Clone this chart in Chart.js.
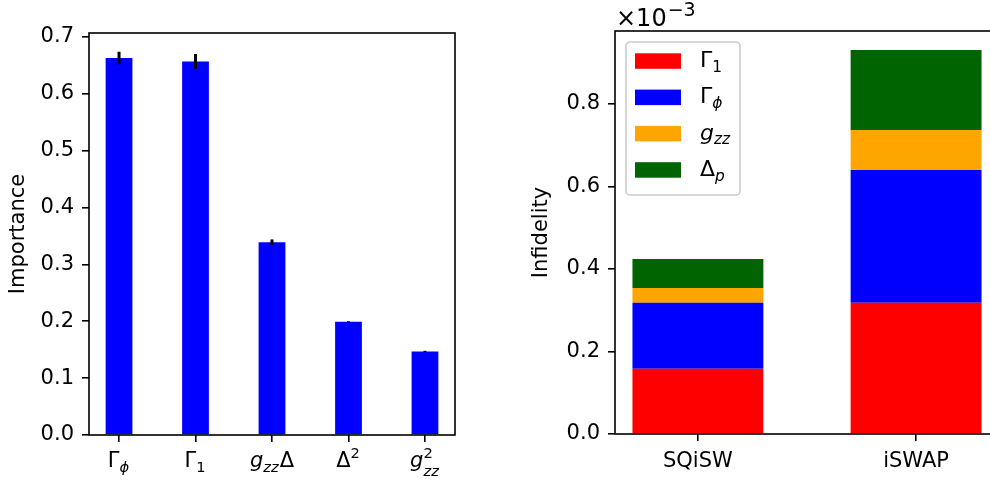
<!DOCTYPE html>
<html>
<head>
<meta charset="utf-8">
<script src="https://cdn.jsdelivr.net/npm/chart.js@4.4.1/dist/chart.umd.min.js"></script>
<style>
  html, body { margin: 0; padding: 0; background: #fff; overflow: hidden; width: 990px; height: 482px; }
  #left { position: absolute; left: 0; top: 0; }
  #right { position: absolute; left: 490px; top: 0; }
</style>
</head>
<body>
<canvas id="left" width="490" height="482"></canvas>
<canvas id="right" width="520" height="482"></canvas>
<script>
// ---- left panel: feature importance ----
const features = ['Γϕ', 'Γ1', 'gzzΔ', 'Δ2', 'g2zz'];
const importance = [0.663, 0.657, 0.339, 0.199, 0.147];
const importanceErr = [0.011, 0.013, 0.005, 0.001, 0.001];
const importanceTicks = [0, 0.1, 0.2, 0.3, 0.4, 0.5, 0.6, 0.7];

// ---- right panel: infidelity budget (units of 1e-3) ----
const gates = ['SQiSW', 'iSWAP'];
const gamma1 = [0.158, 0.318];
const gammaPhi = [0.160, 0.322];
const gzz = [0.036, 0.097];
const deltaP = [0.070, 0.194];
const infidelityTicks = [0, 0.2, 0.4, 0.6, 0.8];

// math-ish labels (drawn by hand, chart.js can't do sub/superscripts)
const featureMath = [
  [{ t: 'Γ' }, { sub: 'ϕ', subIt: true }],
  [{ t: 'Γ' }, { sub: '1' }],
  [{ t: 'g', it: true }, { sub: 'zz', subIt: true }, { t: 'Δ' }],
  [{ t: 'Δ' }, { sup: '2' }],
  [{ t: 'g', it: true }, { sup: '2', sub: 'zz', subIt: true }]
];
const legendMath = [
  [{ t: 'Γ' }, { sub: '1' }],
  [{ t: 'Γ' }, { sub: 'ϕ', subIt: true }],
  [{ t: 'g', it: true }, { sub: 'zz', subIt: true }],
  [{ t: 'Δ' }, { sub: 'p', subIt: true }]
];

Chart.defaults.font.family = '"DejaVu Sans"';
Chart.defaults.font.size = 21;
Chart.defaults.color = '#000';

function mathFont(size, it) {
  return (it ? 'italic ' : '') + size + 'px "DejaVu Sans"';
}
function pieceWidth(ctx, p, size) {
  if (p.t) { ctx.font = mathFont(size, p.it); return ctx.measureText(p.t).width; }
  const s = size * 0.7;
  let w = 0;
  if (p.sup) { ctx.font = mathFont(s, false); w = Math.max(w, ctx.measureText(p.sup).width); }
  if (p.sub) { ctx.font = mathFont(s, p.subIt); w = Math.max(w, ctx.measureText(p.sub).width); }
  return w + 1;
}
function drawMath(ctx, pieces, x, y, size, align) {
  const total = pieces.reduce((a, p) => a + pieceWidth(ctx, p, size), 0);
  let cx = align === 'center' ? x - total / 2 : x;
  ctx.save();
  ctx.fillStyle = '#000';
  ctx.textAlign = 'left';
  ctx.textBaseline = 'alphabetic';
  pieces.forEach(p => {
    const w = pieceWidth(ctx, p, size);
    if (p.t) {
      ctx.font = mathFont(size, p.it);
      ctx.fillText(p.t, cx, y);
    } else {
      const s = size * 0.7, both = p.sup && p.sub;
      if (p.sup) { ctx.font = mathFont(s, false); ctx.fillText(p.sup, cx, y - size * 0.42); }
      if (p.sub) { ctx.font = mathFont(s, p.subIt); ctx.fillText(p.sub, cx, y + size * (both ? 0.45 : 0.22)); }
    }
    cx += w;
  });
  ctx.restore();
}

function spines(chart) {
  const a = chart.chartArea, ctx = chart.ctx;
  ctx.save();
  ctx.strokeStyle = '#000';
  ctx.lineWidth = 1.6;
  ctx.strokeRect(a.left, a.top, a.right - a.left, a.bottom - a.top);
  ctx.restore();
}

const tickGrid = { drawOnChartArea: false, drawTicks: true, tickLength: 7, color: '#000', lineWidth: 1.6, offset: false };

/* ================= LEFT ================= */
const leftExtras = {
  id: 'leftExtras',
  afterDatasetsDraw(chart) {
    const ctx = chart.ctx, xs = chart.scales.x, ys = chart.scales.y;
    ctx.save();
    ctx.strokeStyle = '#000';
    ctx.lineWidth = 3;
    importance.forEach((v, i) => {
      const x = xs.getPixelForValue(i);
      ctx.beginPath();
      ctx.moveTo(x, ys.getPixelForValue(v - importanceErr[i]));
      ctx.lineTo(x, ys.getPixelForValue(v + importanceErr[i]));
      ctx.stroke();
    });
    ctx.restore();
  },
  afterDraw(chart) {
    spines(chart);
    const xs = chart.scales.x;
    featureMath.forEach((m, i) => {
      drawMath(chart.ctx, m, xs.getPixelForValue(i), chart.chartArea.bottom + 32, 21, 'center');
    });
  }
};

new Chart(document.getElementById('left'), {
  type: 'bar',
  data: {
    datasets: [{
      label: 'Importance',
      data: importance.map((v, i) => ({ x: i, y: v })),
      backgroundColor: '#0000ff',
      borderWidth: 0,
      barPercentage: 0.35,
      categoryPercentage: 1
    }]
  },
  options: {
    responsive: false,
    animation: false,
    layout: { padding: { left: 0, top: 33, right: 35, bottom: 0 } },
    plugins: { legend: { display: false }, tooltip: { enabled: false } },
    scales: {
      x: {
        type: 'linear',
        offset: false,
        min: -0.3925, max: 4.3925,
        afterBuildTicks: s => { s.ticks = features.map((f, i) => ({ value: i })); },
        afterFit: s => { s.height = 47; },
        ticks: { callback: () => '' },
        grid: tickGrid,
        border: { display: false }
      },
      y: {
        min: 0, max: 0.707,
        afterBuildTicks: s => { s.ticks = importanceTicks.map(v => ({ value: v })); },
        afterFit: s => { s.width = 89; },
        ticks: { padding: 8, callback: v => v.toFixed(1) },
        grid: tickGrid,
        border: { display: false },
        title: { display: true, text: 'Importance', padding: { top: 6, bottom: 0 } }
      }
    }
  },
  plugins: [leftExtras]
});

/* ================= RIGHT ================= */
const rightExtras = {
  id: 'rightExtras',
  afterDraw(chart) {
    spines(chart);
    const ctx = chart.ctx, a = chart.chartArea;
    // offset text
    ctx.save();
    ctx.fillStyle = '#000';
    ctx.textBaseline = 'alphabetic';
    ctx.font = '24px "DejaVu Sans"';
    ctx.fillText('×10', a.left + 1, 26);
    const w = ctx.measureText('×10').width;
    ctx.font = '19px "DejaVu Sans"';
    ctx.fillText('−3', a.left + 2 + w, 16);
    // legend
    const bx = 136, by = 42, bw = 114, bh = 153;
    ctx.beginPath();
    ctx.roundRect(bx, by, bw, bh, 4);
    ctx.fillStyle = 'rgba(255,255,255,0.8)';
    ctx.fill();
    ctx.strokeStyle = '#cccccc';
    ctx.lineWidth = 1.6;
    ctx.stroke();
    chart.data.datasets.forEach((ds, i) => {
      const cy = by + 19 + i * 36.3;
      ctx.fillStyle = ds.backgroundColor;
      ctx.fillRect(bx + 9, cy - 7.7, 46, 15.5);
      drawMath(ctx, legendMath[i], bx + 74, cy + 6, 22, 'left');
    });
    ctx.restore();
  }
};

const stackDs = (label, vals, color) => ({
  label,
  data: vals.map((v, i) => ({ x: i, y: v })),
  backgroundColor: color,
  borderWidth: 0,
  barPercentage: 0.6,
  categoryPercentage: 1
});

new Chart(document.getElementById('right'), {
  type: 'bar',
  data: {
    datasets: [
      stackDs('Γ1', gamma1, '#ff0000'),
      stackDs('Γϕ', gammaPhi, '#0000ff'),
      stackDs('gzz', gzz, '#ffa500'),
      stackDs('Δp', deltaP, '#006400')
    ]
  },
  options: {
    responsive: false,
    animation: false,
    layout: { padding: { left: 0, top: 31, right: 11, bottom: 0 } },
    plugins: { legend: { display: false }, tooltip: { enabled: false } },
    scales: {
      x: {
        type: 'linear',
        stacked: true,
        offset: false,
        min: -0.38, max: 1.38,
        afterBuildTicks: s => { s.ticks = gates.map((g, i) => ({ value: i })); },
        afterFit: s => { s.height = 48; },
        ticks: { padding: 8, maxRotation: 0, callback: v => gates[v] },
        grid: tickGrid,
        border: { display: false }
      },
      y: {
        stacked: true,
        min: 0, max: 0.977,
        afterBuildTicks: s => { s.ticks = infidelityTicks.map(v => ({ value: v })); },
        afterFit: s => { s.width = 125; },
        ticks: { padding: 8, callback: v => v.toFixed(1) },
        grid: tickGrid,
        border: { display: false },
        title: { display: true, text: 'Infidelity', padding: { top: 39, bottom: 0 } }
      }
    }
  },
  plugins: [rightExtras]
});
</script>
</body>
</html>
